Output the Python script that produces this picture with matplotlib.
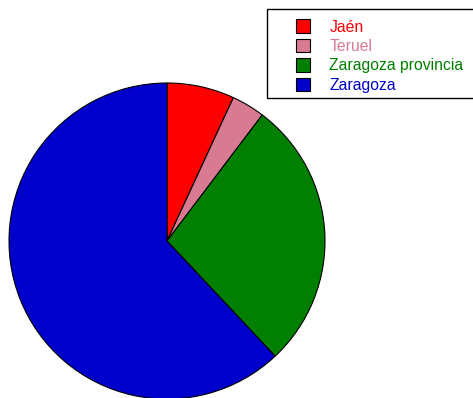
import matplotlib
matplotlib.use("Agg")
import matplotlib.pyplot as plt
from matplotlib.patches import Rectangle

labels = ["Jaén", "Teruel", "Zaragoza provincia", "Zaragoza"]
values = [6.9, 3.4, 27.7, 62.0]
colors = ["#ff0000", "#d87a91", "#007f00", "#0000cc"]

plt.rcParams['font.family'] = ['Liberation Sans', 'DejaVu Sans']

W, H = 473, 398
fig = plt.figure(figsize=(W / 100, H / 100), dpi=100)
cx, cy, r = 167, 241, 158
ax = fig.add_axes([(cx - r) / W, (H - cy - r) / H, 2 * r / W, 2 * r / H])
wedges, _ = ax.pie(values, colors=colors, startangle=90, counterclock=False,
                   radius=1.0, wedgeprops=dict(edgecolor="black", linewidth=0.8))
ax.set_xlim(-1, 1)
ax.set_ylim(-1, 1)
ax.set_aspect('equal')
ax.axis('off')

# legend frame
fig.patches.append(Rectangle((267 / W, 1 - 98 / H), 220 / W, 89 / H,
                             transform=fig.transFigure, facecolor="white",
                             edgecolor="black", linewidth=1.0, zorder=0))
fs = 11.3
leg = fig.legend(wedges, labels, loc="upper left",
                 bbox_to_anchor=(296 / W, 1 - 19.5 / H), frameon=False,
                 fontsize=fs, borderpad=0, borderaxespad=0,
                 handlelength=0.92, handleheight=0.92, handletextpad=1.2,
                 labelspacing=0.28)
for t, c in zip(leg.get_texts(), colors):
    t.set_color(c)

fig.savefig("out.png", dpi=100)
